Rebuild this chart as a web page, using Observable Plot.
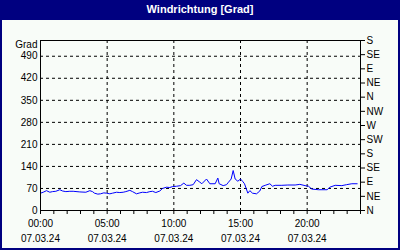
<!DOCTYPE html>
<html><head><meta charset="utf-8">
<script src="https://cdn.jsdelivr.net/npm/d3@7"></script>
<script src="https://cdn.jsdelivr.net/npm/@observablehq/plot@0.6"></script>
<style>
html,body{margin:0;padding:0;background:#f8fcf8;}
#wrap{width:400px;height:250px;box-sizing:border-box;border:2px solid #000080;border-top:none;background:#f8fcf8;overflow:hidden;}
#title{height:20px;background:#000080;color:#fff;font:bold 11px "Liberation Sans",Arial,sans-serif;text-align:center;line-height:19px;margin:0 -2px;}
svg{display:block;}
</style></head>
<body><div id="wrap"><div id="title">Windrichtung [Grad]</div><div id="chart"></div></div>
<script>
const hours = [0,0.2,0.45,0.7,0.9,1.15,1.45,1.65,1.9,2.2,2.45,2.95,3.4,3.7,3.9,4.05,4.3,4.5,4.75,4.95,5.2,5.4,5.7,5.95,6.2,6.4,6.7,6.9,7.2,7.45,7.65,7.95,8.2,8.4,8.65,8.95,9.15,9.45,9.7,9.9,10.2,10.5,10.75,10.95,11.2,11.45,11.7,11.95,12.1,12.45,12.7,13.1,13.3,13.4,13.7,13.95,14.1,14.3,14.45,14.6,14.8,15.0,15.15,15.3,15.55,15.7,15.9,16.2,16.45,16.6,16.85,17.2,17.4,17.6,18.1,18.55,19.1,19.45,19.85,20.1,20.35,20.85,21.5,21.7,22.1,22.6,22.95,23.35,23.75];
const degrees = [55,58,63,58,60,61,66,62,60,61,61,59,58,63,60,55,52,53,56,55,53,55,58,57,58,60,64,60,53,56,58,57,60,61,57,62,70,74,73,76,77,79,87,80,80,82,98,90,85,100,85,85,103,85,79,82,90,100,127,100,93,100,93,85,55,63,55,53,62,76,80,85,77,80,80,81,81,83,79,77,68,66,66,74,80,79,82,85,85];
const majorHours = [0,5,10,15,20];
const timeLabels = ["00:00","05:00","10:00","15:00","20:00"];
const dateLabels = ["07.03.24","07.03.24","07.03.24","07.03.24","07.03.24"];
const leftTicks = [0,70,140,210,280,350,420,490];
const gridY = [70,140,210,280,350,420,490];
const dirTicks = [0,45,90,135,180,225,270,315,360,405,450,495,540];
const dirLabels = ["N","NE","E","SE","S","SW","W","NW","N","NE","E","SE","S"];
const hourTicks = d3.range(0,25);

const data = hours.map((h,i)=>({h, v: degrees[i]}));

const chart = Plot.plot({
  width: 396, height: 228,
  marginLeft: 38, marginRight: 38, marginTop: 20, marginBottom: 38,
  style: {background:"transparent", fontFamily:'"Liberation Sans",Arial,sans-serif', fontSize:"10px", color:"#000"},
  x: {domain:[0,24], label:null},
  y: {domain:[0,540], label:null},
  marks: [
    Plot.ruleY(gridY, {stroke:"#000", strokeDasharray:"3,3", strokeWidth:1}),
    Plot.ruleX(majorHours.slice(1), {stroke:"#000", strokeDasharray:"3,3", strokeWidth:1}),
    Plot.line(data, {x:"h", y:"v", stroke:"#0000ff", strokeWidth:1}),
    Plot.frame({stroke:"#000"}),
    Plot.axisX(hourTicks, {anchor:"bottom", tickSize:4, tickFormat: () => "", label:null, stroke:"#000"}),
    Plot.axisX(majorHours, {anchor:"bottom", tickSize:0, tickPadding:9, tickFormat: d => timeLabels[majorHours.indexOf(d)], label:null, fill:"#000"}),
    Plot.axisX(majorHours, {anchor:"bottom", tickSize:0, tickPadding:24, tickFormat: d => dateLabels[majorHours.indexOf(d)], label:null, fill:"#000"}),
    Plot.axisY(leftTicks, {anchor:"left", tickSize:0, tickPadding:3, label:null, fill:"#000"}),
    Plot.axisY(dirTicks, {anchor:"right", tickSize:4, tickPadding:2, tickFormat: d => dirLabels[dirTicks.indexOf(d)], label:null, fill:"#000", stroke:"#000"}),
    Plot.text(["Grad"], {frameAnchor:"top-left", dx:-3, dy:0, textAnchor:"end", fill:"#000"})
  ]
});
document.getElementById("chart").appendChild(chart);
</script></body></html>
